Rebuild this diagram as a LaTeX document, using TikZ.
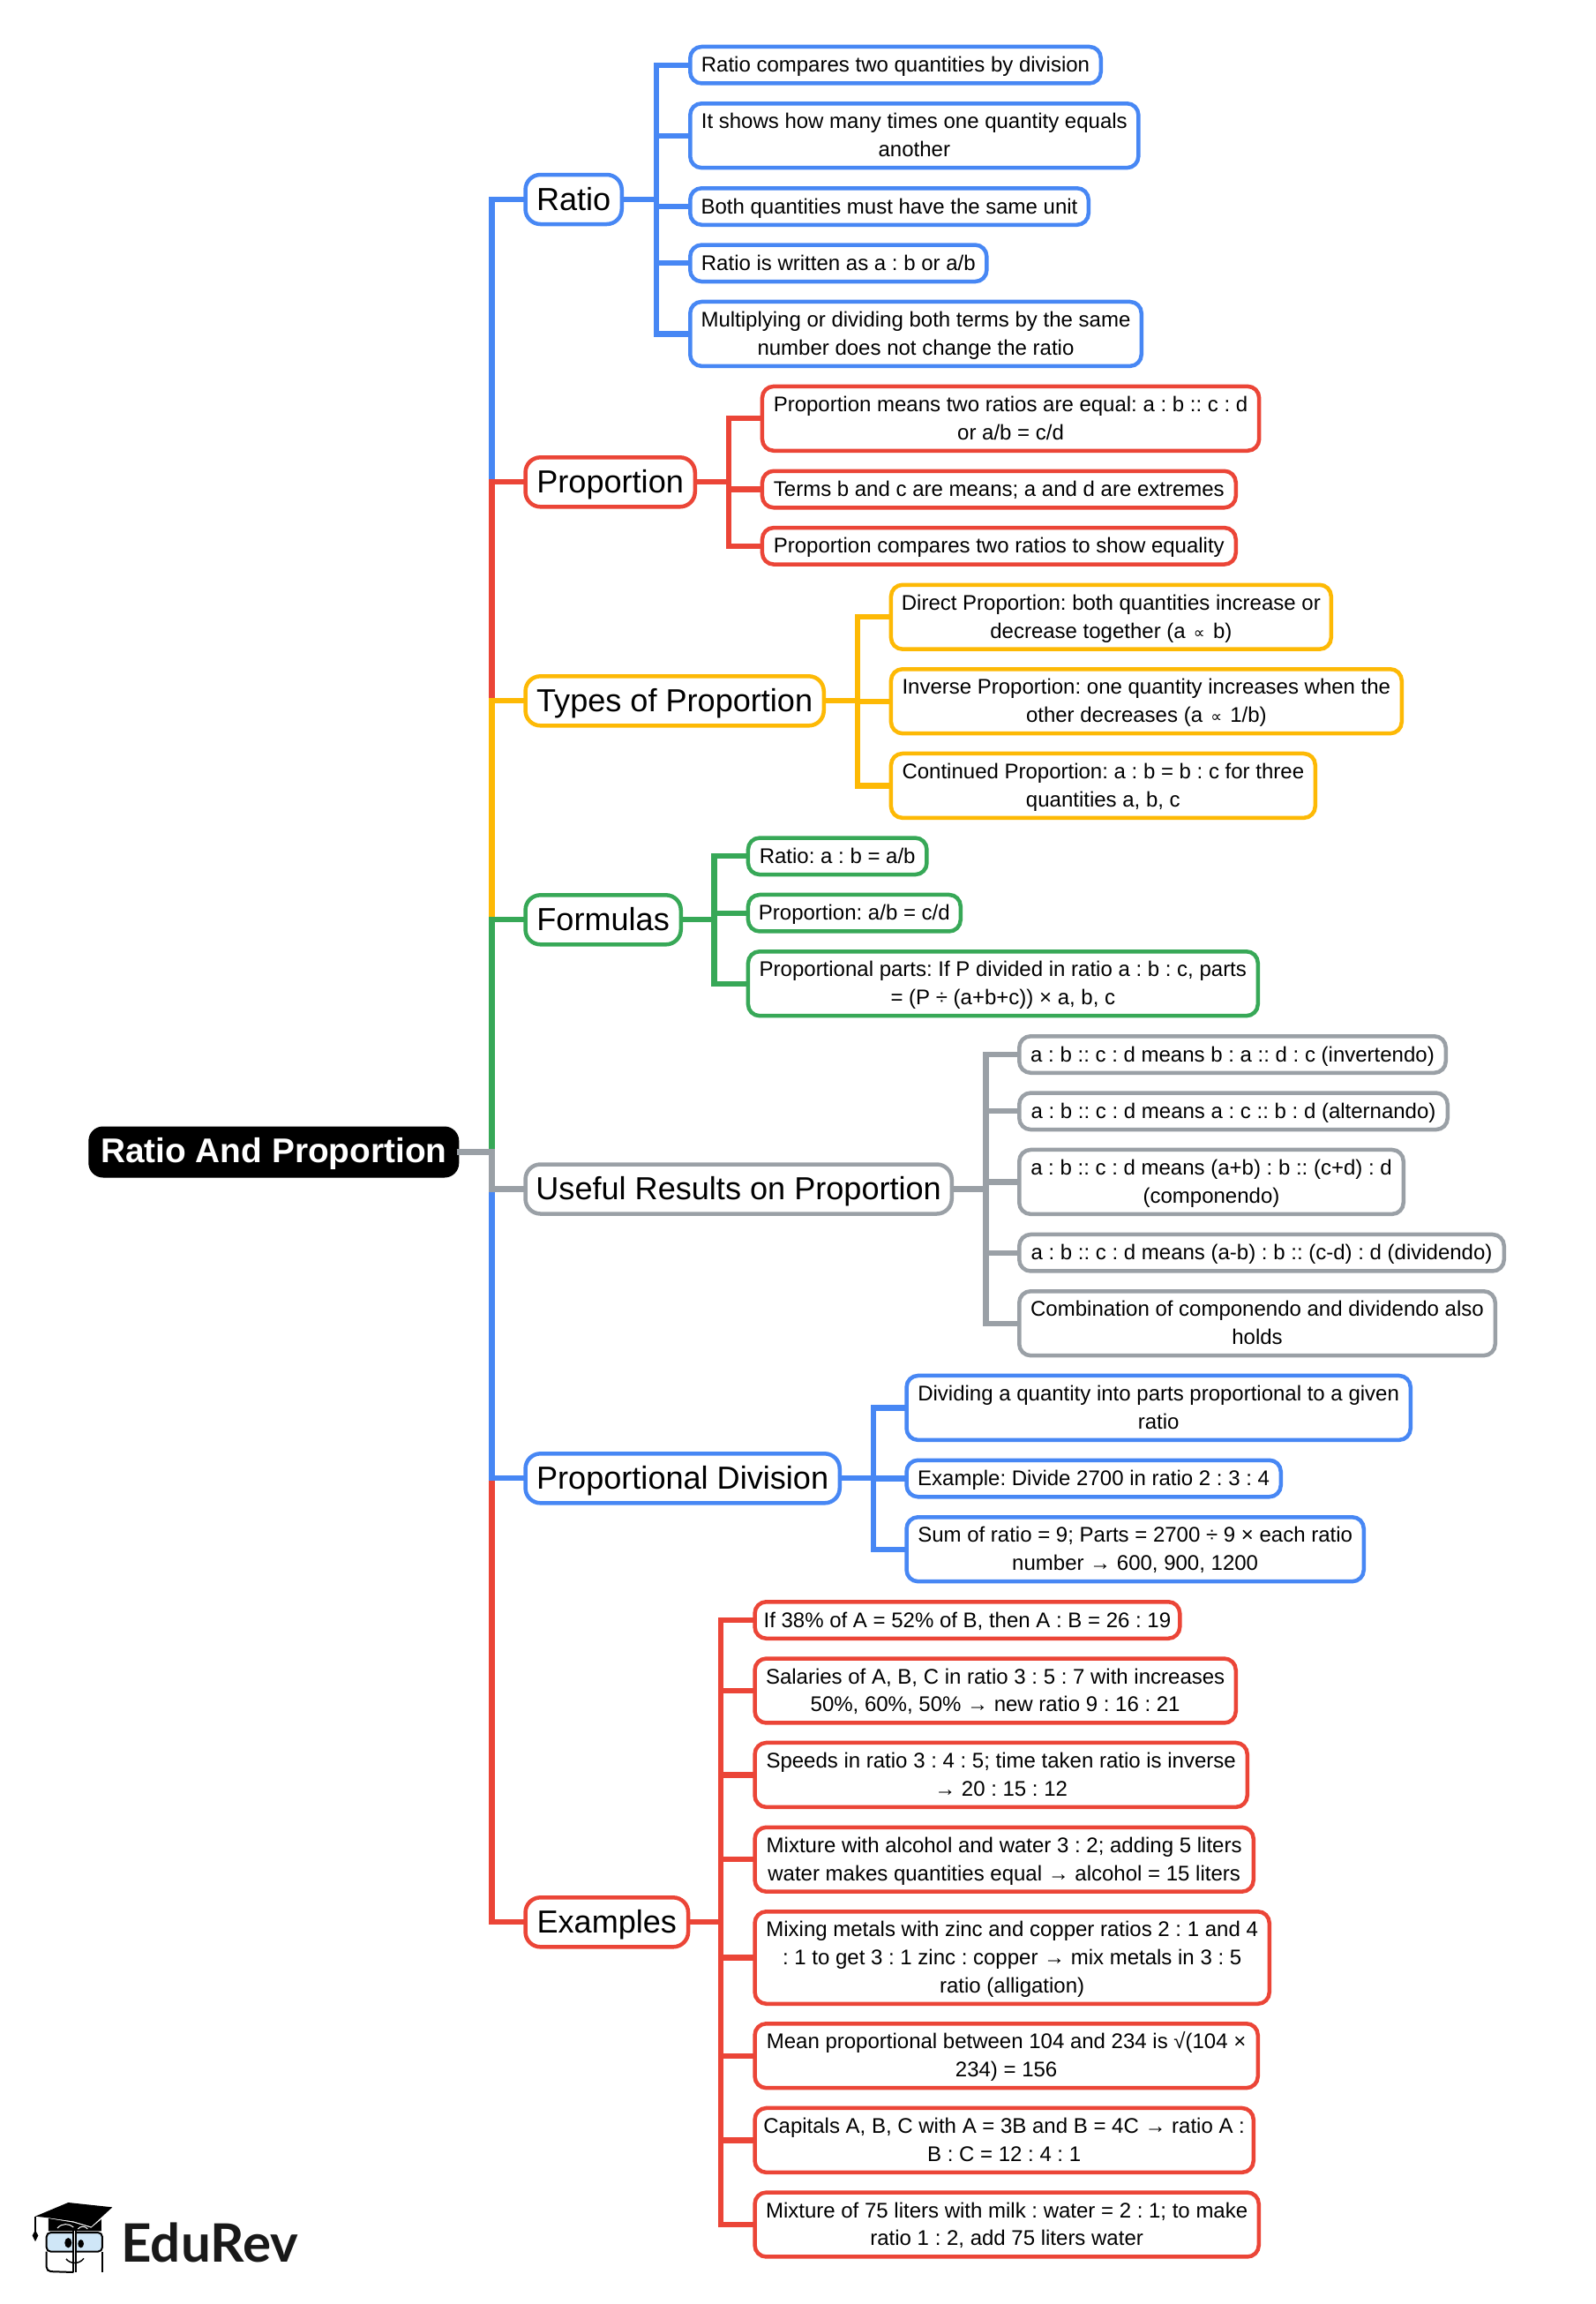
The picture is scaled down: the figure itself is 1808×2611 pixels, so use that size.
\documentclass[tikz,border=0pt]{standalone}
\usepackage{fontspec}
\setmainfont{Liberation Sans}
\newfontfamily\logofont{Lato}
\newfontfamily\symfont{DejaVu Sans}
\AtBeginDocument{\frenchspacing}
\definecolor{cblue}{HTML}{4787F4}
\definecolor{cred}{HTML}{EB4537}
\definecolor{cyellow}{HTML}{FDB905}
\definecolor{cgreen}{HTML}{37A857}
\definecolor{cgray}{HTML}{9AA0A6}
\definecolor{clogo}{HTML}{CFE6F7}
\tikzset{
  boxbase/.style={draw,line width=4.5pt,fill=white,inner sep=0pt,outer sep=0pt,align=center,text=black},
  leafbox/.style={boxbase,rounded corners=13pt,font=\fontsize{24}{31.8}\selectfont},
  branchbox/.style={boxbase,rounded corners=17pt,font=\fontsize{36.1}{44}\selectfont},
  rootbox/.style={draw=black,fill=black,text=white,line width=1pt,outer sep=0pt,rounded corners=16pt,inner sep=0pt,font=\bfseries\fontsize{38.8}{46}\selectfont},
  wire/.style={line width=6.2pt,line join=miter,shorten >=-2pt,shorten <=-2pt}
}
\newcommand{\lf}[7]{%
  \pgfmathsetmacro{\cxx}{(#3+#5)/2}%
  \pgfmathsetmacro{\cyy}{#4+#6/2}%
  \pgfmathsetmacro{\wdd}{#5-#3-4.5}%
  \pgfmathsetmacro{\htt}{#6-4.5}%
  \node[#2,minimum width=\wdd pt,minimum height=\htt pt] (#1) at (\cxx,\cyy) {\rule{0pt}{21pt}#7\rule[-5pt]{0pt}{5pt}};%
}
\newcommand{\br}[6]{%
  \pgfmathsetmacro{\cxx}{(593.3+#4)/2}%
  \pgfmathsetmacro{\wdd}{#4-593.3-4.5}%
  \node[branchbox,draw=#2,minimum width=\wdd pt,minimum height=56pt] (#1) at (\cxx,#3) {\rule{0pt}{32pt}#5\rule[-8pt]{0pt}{8pt}};%
}
\newcommand{\wires}[4]{%
  \coordinate (sp) at (#2,0);%
  \foreach \cc in {#4}{\draw[wire,draw=#3] (#1.east) -- (#1.east -| sp) |- (\cc.west);}%
}
\newcommand{\prp}{\kern2.5pt{\symfont\fontsize{18}{18}\selectfont ∝}\kern2.5pt}
\begin{document}
\begin{tikzpicture}[x=1pt,y=-1pt]
\useasboundingbox (0,0) rectangle (1808,2611);
\fill[white] (0,0) rectangle (1808,2611);
\node[rootbox,minimum width=419pt,minimum height=57pt] (root) at (310.3,1305.5) {\rule{0pt}{33pt}Ratio And Proportion\rule[-8.5pt]{0pt}{8.5pt}};
% Branches
\br{ratio}{cblue}{226}{707}{Ratio}{}
\br{prop}{cred}{546.3}{790}{Proportion}{}
\br{types}{cyellow}{794.3}{936}{Types of Proportion}{}
\br{form}{cgreen}{1042.3}{774}{Formulas}{}
\br{useful}{cgray}{1347.5}{1081}{Useful Results on Proportion}{}
\br{pdiv}{cblue}{1675.3}{954}{Proportional Division}{}
\br{exam}{cred}{2178.3}{782.3}{Examples}{}
% Ratio leaves
\lf{r1}{leafbox,draw=cblue}{780}{50.7}{1250}{46}{Ratio compares two quantities by division}
\lf{r2}{leafbox,draw=cblue}{780}{115}{1292.6}{77.4}{It shows how many times one quantity equals\\another}
\lf{r3}{leafbox,draw=cblue}{780}{211}{1236}{46}{Both quantities must have the same unit}
\lf{r4}{leafbox,draw=cblue}{780}{275.3}{1120.6}{46}{Ratio is written as a : b or a/b}
\lf{r5}{leafbox,draw=cblue}{780}{339.7}{1296}{77.4}{Multiplying or dividing both terms by the same\\number does not change the ratio}
% Proportion leaves
\lf{p1}{leafbox,draw=cred}{861.7}{435.6}{1429.4}{77.4}{Proportion means two ratios are equal: a : b :: c : d\\or a/b = c/d}
\lf{p2}{leafbox,draw=cred}{861.7}{531.5}{1403}{46}{Terms b and c are means; a and d are extremes}
\lf{p3}{leafbox,draw=cred}{861.7}{595.8}{1403}{46}{Proportion compares two ratios to show equality}
% Types leaves
\lf{t1}{leafbox,draw=cyellow}{1007.7}{660.5}{1511}{77.4}{Direct Proportion: both quantities increase or\\decrease together (a \prp{} b)}
\lf{t2}{leafbox,draw=cyellow}{1007.7}{756}{1591}{77.4}{Inverse Proportion: one quantity increases when the\\other decreases (a \prp{} 1/b)}
\lf{t3}{leafbox,draw=cyellow}{1007.7}{851.7}{1493}{77.4}{Continued Proportion: a : b = b : c for three\\quantities a, b, c}
% Formulas leaves
\lf{f1}{leafbox,draw=cgreen}{845.7}{947.3}{1052.7}{46}{Ratio: a : b = a/b}
\lf{f2}{leafbox,draw=cgreen}{845.7}{1011.7}{1091}{46}{Proportion: a/b = c/d}
\lf{f3}{leafbox,draw=cgreen}{845.7}{1076}{1428}{77.4}{Proportional parts: If P divided in ratio a : b : c, parts\\= (P ÷ (a+b+c)) × a, b, c}
% Useful leaves
\lf{u1}{leafbox,draw=cgray}{1153}{1172}{1641}{46}{a : b :: c : d means b : a :: d : c (invertendo)}
\lf{u2}{leafbox,draw=cgray}{1153}{1236.3}{1643}{46}{a : b :: c : d means a : c :: b : d (alternando)}
\lf{u3}{leafbox,draw=cgray}{1153}{1300.7}{1593}{77.4}{a : b :: c : d means (a+b) : b :: (c+d) : d\\(componendo)}
\lf{u4}{leafbox,draw=cgray}{1153}{1396.7}{1707}{46}{a : b :: c : d means (a-b) : b :: (c-d) : d (dividendo)}
\lf{u5}{leafbox,draw=cgray}{1153}{1461}{1697}{77.4}{Combination of componendo and dividendo also\\holds}
% Division leaves
\lf{d1}{leafbox,draw=cblue}{1025.3}{1556.7}{1601}{77.4}{Dividing a quantity into parts proportional to a given\\ratio}
\lf{d2}{leafbox,draw=cblue}{1025.3}{1652.5}{1454}{46}{Example: Divide 2700 in ratio 2 : 3 : 4}
\lf{d3}{leafbox,draw=cblue}{1025.3}{1717}{1548}{77.4}{Sum of ratio = 9; Parts = 2700 ÷ 9 × each ratio\\number → 600, 900, 1200}
% Examples leaves
\lf{e1}{leafbox,draw=cred}{853.3}{1813}{1339.5}{46}{If 38\% of A = 52\% of B, then A : B = 26 : 19}
\lf{e2}{leafbox,draw=cred}{853.3}{1877.3}{1403}{77.4}{Salaries of A, B, C in ratio 3 : 5 : 7 with increases\\50\%, 60\%, 50\% → new ratio 9 : 16 : 21}
\lf{e3}{leafbox,draw=cred}{853.3}{1972.7}{1416}{77.4}{Speeds in ratio 3 : 4 : 5; time taken ratio is inverse\\→ 20 : 15 : 12}
\lf{e4}{leafbox,draw=cred}{853.3}{2068.5}{1423}{77.4}{Mixture with alcohol and water 3 : 2; adding 5 liters\\water makes quantities equal → alcohol = 15 liters}
\lf{e5}{leafbox,draw=cred}{853.3}{2164}{1441}{109}{Mixing metals with zinc and copper ratios 2 : 1 and 4\\: 1 to get 3 : 1 zinc : copper → mix metals in 3 : 5\\ratio (alligation)}
\lf{e6}{leafbox,draw=cred}{853.3}{2291}{1428}{77.4}{Mean proportional between 104 and 234 is √(104 ×\\234) = 156}
\lf{e7}{leafbox,draw=cred}{853.3}{2386.7}{1423}{77.4}{Capitals A, B, C with A = 3B and B = 4C → ratio A :\\B : C = 12 : 4 : 1}
\lf{e8}{leafbox,draw=cred}{853.3}{2482.3}{1429}{77.4}{Mixture of 75 liters with milk : water = 2 : 1; to make\\ratio 1 : 2, add 75 liters water}
% Connectors
\wires{root}{557.5}{cblue}{ratio}
\wires{root}{557.5}{cred}{prop}
\wires{root}{557.5}{cyellow}{types}
\wires{root}{557.5}{cgreen}{form}
\wires{root}{557.5}{cred}{exam}
\wires{root}{557.5}{cblue}{pdiv}
\wires{root}{557.5}{cgray}{useful}
\wires{ratio}{744}{cblue}{r1,r2,r3,r4,r5}
\wires{prop}{825.7}{cred}{p1,p2,p3}
\wires{types}{971.7}{cyellow}{t1,t2,t3}
\wires{form}{809.5}{cgreen}{f1,f2,f3}
\wires{useful}{1117.5}{cgray}{u1,u2,u3,u4,u5}
\wires{pdiv}{990}{cblue}{d1,d2,d3}
\wires{exam}{817.3}{cred}{e1,e2,e3,e4,e5,e6,e7,e8}
% Logo
\begin{scope}[shift={(0,2420)},x=0.3333pt,y=-0.3333pt]
\fill[black] (120,275)--(232,228)--(382,244)--(310,310)--(250,292)--(165,280)--cycle;
\fill[black] (165,282)--(250,296)--(310,314)--(345,285)--(345,325)--(165,325)--cycle;
\draw[white,line width=1pt] (195,315) .. controls (210,298) and (235,298) .. (250,312);
\draw[white,line width=1pt] (265,318) .. controls (275,306) and (290,308) .. (298,318);
\draw[black,line width=1.5pt] (120,275)--(120,330);
\fill[black] (120,322)--(130,340)--(120,360)--(110,340)--cycle;
\draw[black,line width=2pt,fill=clogo,rounded corners=5pt] (158,330) rectangle (348,395);
\draw[black,line width=2pt,rounded corners=5pt] (158,395) -- (158,462) -- (250,465);
\draw[black,line width=2pt,rounded corners=5pt] (348,395) -- (348,465);
\draw[black,line width=1.5pt] (249,325)--(249,465);
\draw[white,line width=1.5pt] (253,325)--(253,465);
\draw[black,line width=1.5pt] (258,325)--(258,465);
\fill[black] (232,365) ellipse [x radius=12, y radius=17];
\fill[black] (275,368) ellipse [x radius=10, y radius=14];
\draw[black,line width=1.5pt] (225,420) .. controls (240,438) and (270,438) .. (285,418);
\node[font=\logofont\bfseries\fontsize{60}{60}\selectfont,text=black!90,anchor=base west,inner sep=0pt] (logo) at (412,430) {EduRev};
\end{scope}
\end{tikzpicture}
\end{document}
